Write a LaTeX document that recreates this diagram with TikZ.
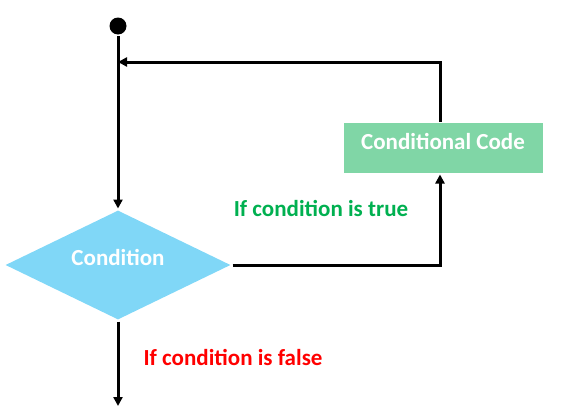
\documentclass[tikz,border=0pt]{standalone}
\usepackage{fontspec}
\setmainfont{Carlito}
\usetikzlibrary{shapes.geometric,arrows.meta,positioning}
\definecolor{condblue}{RGB}{128,215,247}
\definecolor{codegreen}{RGB}{128,214,166}
\definecolor{truegreen}{RGB}{0,176,80}
\definecolor{falsered}{RGB}{255,0,0}

\begin{document}
\begin{tikzpicture}[x=1pt, y=-1pt, line width=3pt,
  flow/.style={-{Triangle[width=9pt,length=9pt]}},
  label/.style={font=\fontsize{23}{27}\selectfont\bfseries}]
  \useasboundingbox (0,0) rectangle (563,415);
  \node[circle, fill=black, minimum size=17pt, inner sep=0pt] (start) at (118,26) {};
  \node[diamond, fill=condblue, aspect=2.05, minimum width=226pt, minimum height=110pt, inner sep=0pt,
    text height=16pt, text depth=16pt, text=white, label] (cond) at (118,265) {Condition};
  \node[rectangle, fill=codegreen, minimum width=199pt, minimum height=50pt, inner sep=0pt,
    text height=16pt, text depth=14pt, text=white, label] (code) at (443,148) {Conditional Code};
  \coordinate (join) at (118,62);
  \coordinate (exit) at (118,406);
  \draw[flow] (start) -- (cond.north);
  \draw[flow] ([xshift=-3pt]code.north) |- (join);
  \draw[flow] (cond.east) -| ([xshift=-3pt]code.south);
  \draw[flow] (cond.south) -- (exit);
  \node[label, text=truegreen] (true) at (321,208) {If condition is true};
  \node[label, text=falsered] (false) at (233,357) {If condition is false};
\end{tikzpicture}
\end{document}
